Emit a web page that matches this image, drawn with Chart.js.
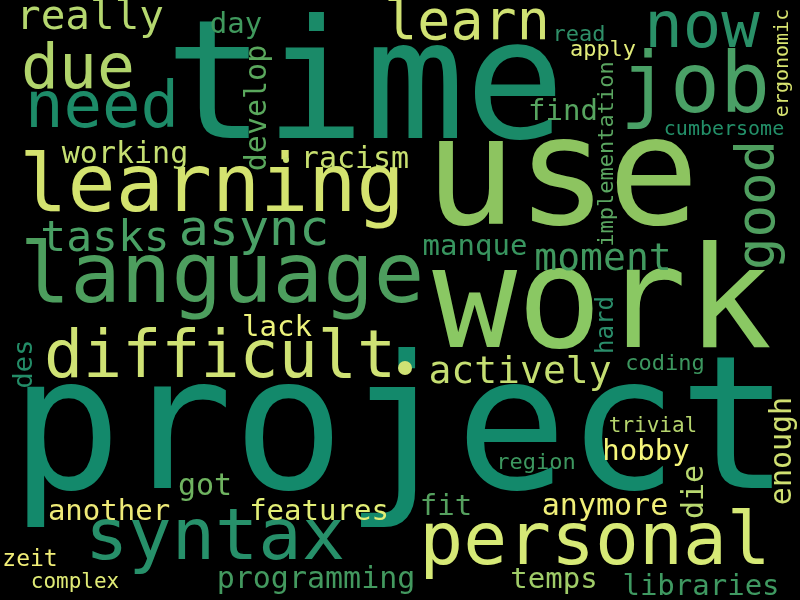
<!DOCTYPE html>
<html><head><meta charset="utf-8">
<script src="https://cdn.jsdelivr.net/npm/chart.js@4"></script>
<style>html,body{margin:0;padding:0;background:#000}</style>
</head><body>
<canvas id="c" width="800" height="600"></canvas>
<script>
const words=["time","use","project","work","language","learning","difficult","syntax","personal","job","due","need","now","learn","async","really","tasks","good","moment","actively","manque","racism","working","find","develop","day","read","apply","ergonomic","cumbersome","implementation","lack","des","hard","coding","enough","trivial","hobby","region","die","got","another","features","fit","anymore","zeit","complex","programming","temps","libraries"];
const xs=[365,562,400,602,222,212,220,215,595,695,78,102,702,467,254,90,105,760,603,520,475,355,125,563,258,236,579,603,783,724,607,277,25,607,665,783,653,646,536,695,205,109,319,446,605,30,75,316,554,701];
const ys=[95,185,440,310,280,190,360,540,545,90,72,110,30,25,232,18,240,205,260,373,247,160,155,112,108,25,35,50,63,130,154,328,364,325,364,451,427,452,463,492,487,512,512,507,507,560,583,580,580,587];
const sizes=[166,152,185,141,84,80,65,72,73,83,63,64,64,55,50,41,43,54,38,38,29,30,30,29,30,29,22,22,20,20,22,29,27,24,22,30,21,29,22,30,30,29,29,29,30,23,21,30,29,29];
const rot=[0,0,0,0,0,0,0,0,0,0,0,0,0,0,0,0,0,1,0,0,0,0,0,0,1,0,0,0,1,0,1,0,1,1,0,1,0,0,0,1,0,0,0,0,0,0,0,0,0,0];
const colors=["#1a8a68","#8dc460","#13896b","#8ac863","#4d9e5e","#d4e36f","#cfe274","#27906a","#d6e976","#4aa066","#b1d46c","#1d8b68","#2a9068","#d0e273","#4aa066","#b5d76f","#49a064","#4f9e5f","#41995f","#c5de72","#38955f","#c8e070","#c5df72","#57a560","#5aa85d","#40995d","#2f8f68","#e2ec7a","#d8e470","#239069","#5aa560","#edf37c","#238c67","#2a8d6a","#3c975f","#d0e071","#b6d56e","#f5f57a","#3d975f","#b8d870","#6fb360","#eeea78","#e2ee76","#55a05e","#f0ef78","#f2ef78","#e0eb76","#43995f","#a0cc68","#3f9961"];
const cloud={id:'cloud',afterDatasetsDraw(ch){
  const ctx=ch.ctx,sx=ch.scales.x,sy=ch.scales.y;
  ch.data.datasets[0].data.forEach((d,i)=>{
    ctx.save();
    ctx.translate(sx.getPixelForValue(d.x),sy.getPixelForValue(d.y));
    if(rot[i])ctx.rotate(-Math.PI/2);
    ctx.font=sizes[i]+'px "DejaVu Sans Mono"';
    ctx.fillStyle=colors[i];ctx.textAlign='center';ctx.textBaseline='middle';
    ctx.fillText(words[i],0,0);ctx.restore();
  });
  ctx.save();ctx.fillStyle='#c8e070';ctx.beginPath();ctx.arc(sx.getPixelForValue(286),sy.getPixelForValue(160),3,0,7);ctx.fill();
  ctx.fillStyle='#cfe274';ctx.beginPath();ctx.arc(sx.getPixelForValue(405),sy.getPixelForValue(368),7,0,7);ctx.fill();ctx.restore();
}};
const bg={id:'bg',beforeDraw(ch){ch.ctx.fillStyle='#000';ch.ctx.fillRect(0,0,ch.width,ch.height);}};
new Chart(document.getElementById('c'),{type:'scatter',
 data:{datasets:[{data:words.map((w,i)=>({x:xs[i],y:ys[i]})),pointRadius:0}]},
 options:{responsive:false,animation:false,layout:{padding:0},
  plugins:{legend:{display:false},tooltip:{enabled:false}},
  scales:{x:{type:'linear',min:0,max:800,display:false},y:{type:'linear',min:0,max:600,reverse:true,display:false}}},
 plugins:[bg,cloud]});
</script></body></html>
